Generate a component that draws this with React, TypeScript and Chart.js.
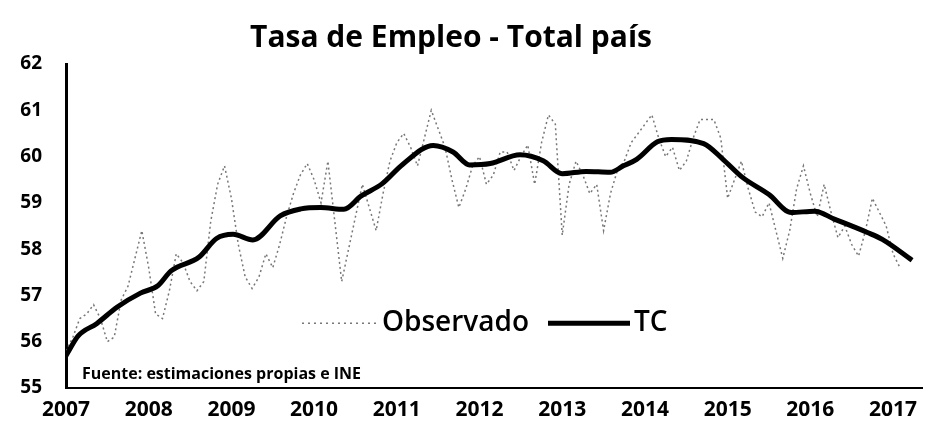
import React, { useEffect, useRef } from "react";
import { Chart, registerables } from "chart.js";

Chart.register(...registerables);

const TITLE = "Tasa de Empleo - Total país";
const SOURCE = "Fuente: estimaciones propias e INE";
const LEGEND_OBS = "Observado";
const LEGEND_TC = "TC";

const X_MIN = 2007;
const X_MAX = 2017.35;
const Y_MIN = 55;
const Y_MAX = 62;

// Tendencia-ciclo (TC): points (decimal year, value)
const tcYears = [
  2007.0, 2007.15, 2007.37, 2007.62, 2007.9, 2008.11, 2008.27, 2008.61, 2008.82,
  2009.02, 2009.26, 2009.59, 2009.84, 2010.08, 2010.36, 2010.57, 2010.82, 2011.07,
  2011.44, 2011.68, 2011.88, 2012.13, 2012.49, 2012.77, 2013.0, 2013.29, 2013.58,
  2013.74, 2013.9, 2014.15, 2014.32, 2014.71, 2014.95, 2015.18, 2015.5, 2015.77,
  2016.05, 2016.29, 2016.69, 2016.87, 2017.23,
];
const tcValues = [
  55.7, 56.13, 56.39, 56.75, 57.05, 57.21, 57.53, 57.83, 58.23,
  58.32, 58.2, 58.72, 58.87, 58.9, 58.86, 59.15, 59.41, 59.83,
  60.24, 60.1, 59.82, 59.85, 60.04, 59.91, 59.63, 59.68, 59.66,
  59.8, 59.94, 60.32, 60.37, 60.28, 59.93, 59.55, 59.18, 58.79,
  58.82, 58.65, 58.36, 58.21, 57.76,
];

// Observado: monthly values from Jan 2007
const obsStartYear = 2007;
const obsValues = [
  // 2007
  55.8, 56.1, 56.5, 56.6, 56.8, 56.5, 56.0, 56.1, 56.9, 57.2, 57.8, 58.4,
  // 2008
  57.6, 56.6, 56.5, 57.1, 57.9, 57.7, 57.3, 57.1, 57.3, 58.6, 59.4, 59.8,
  // 2009
  59.1, 58.1, 57.4, 57.15, 57.4, 57.9, 57.6, 58.1, 58.7, 59.2, 59.6, 59.85,
  // 2010
  59.5, 59.0, 59.9, 58.6, 57.3, 58.0, 58.7, 59.4, 58.9, 58.4, 59.2, 59.9,
  // 2011
  60.3, 60.5, 60.2, 59.8, 60.4, 61.0, 60.6, 60.2, 59.5, 58.9, 59.3, 59.8,
  // 2012
  60.0, 59.4, 59.6, 60.1, 60.1, 59.7, 60.0, 60.25, 59.4, 60.3, 60.9, 60.7,
  // 2013
  58.3, 59.4, 59.9, 59.6, 59.2, 59.4, 58.4, 59.2, 59.7, 59.9, 60.3, 60.5,
  // 2014
  60.7, 60.9, 60.4, 60.0, 60.2, 59.7, 59.9, 60.4, 60.8, 60.8, 60.8, 60.4,
  // 2015
  59.1, 59.5, 59.9, 59.3, 58.8, 58.7, 59.0, 58.4, 57.8, 58.4, 59.3, 59.8,
  // 2016
  59.2, 58.7, 59.4, 58.8, 58.25, 58.5, 58.1, 57.85, 58.4, 59.1, 58.8, 58.5,
  // 2017
  57.9, 57.6,
];

const FONT = "'Open Sans', 'DejaVu Sans', sans-serif";

const overlayPlugin = {
  id: "overlayText",
  afterDraw(chart: any) {
    const { ctx, chartArea } = chart;
    const ys = chart.scales.y;
    ctx.save();
    ctx.fillStyle = "#000";
    ctx.textBaseline = "middle";

    // Title
    ctx.font = `bold 30px ${FONT}`;
    ctx.textAlign = "center";
    ctx.fillText(TITLE, 451, 38);

    // Legend inside the plot
    const ly = ys.getPixelForValue(56.4);
    ctx.strokeStyle = "#777";
    ctx.lineWidth = 1.5;
    ctx.setLineDash([2, 4]);
    ctx.beginPath();
    ctx.moveTo(302, ly);
    ctx.lineTo(376, ly);
    ctx.stroke();
    ctx.setLineDash([]);
    ctx.textAlign = "left";
    ctx.font = `600 28px ${FONT}`;
    ctx.fillText(LEGEND_OBS, 382, ly);
    ctx.strokeStyle = "#000";
    ctx.lineWidth = 5;
    ctx.beginPath();
    ctx.moveTo(548, ly);
    ctx.lineTo(630, ly);
    ctx.stroke();
    ctx.fillText(LEGEND_TC, 634, ly);

    // Source note
    ctx.font = `bold 16px ${FONT}`;
    ctx.fillText(SOURCE, chartArea.left + 16, ys.getPixelForValue(55.3));
    ctx.restore();
  },
};

export default function App() {
  const ref = useRef<HTMLCanvasElement | null>(null);

  useEffect(() => {
    if (!ref.current) return;
    const tcData = tcYears.map((x, i) => ({ x, y: tcValues[i] }));
    const obsData = obsValues.map((y, i) => ({ x: obsStartYear + i / 12, y }));
    const chart = new Chart(ref.current, {
      type: "line",
      data: {
        datasets: [
          {
            label: LEGEND_TC,
            data: tcData,
            borderColor: "#000",
            borderWidth: 5,
            pointRadius: 0,
            cubicInterpolationMode: "monotone",
            fill: false,
          },
          {
            label: LEGEND_OBS,
            data: obsData,
            borderColor: "#777",
            borderWidth: 1.5,
            borderDash: [2, 3],
            pointRadius: 0,
            tension: 0,
            fill: false,
          },
        ],
      },
      options: {
        responsive: false,
        animation: false,
        layout: { padding: { top: 64, right: 12, left: 0, bottom: 0 } },
        plugins: {
          legend: { display: false },
          title: { display: false },
          tooltip: { enabled: false },
        },
        scales: {
          x: {
            type: "linear",
            min: X_MIN,
            max: X_MAX,
            afterFit: (s: any) => {
              s.height = 51;
            },
            ticks: {
              stepSize: 1,
              includeBounds: false,
              autoSkip: false,
              maxRotation: 0,
              color: "#000",
              padding: 9,
              font: { family: FONT, size: 21, weight: "bold" },
              callback: (v: any) => String(v),
            },
            grid: { display: false, drawTicks: false },
            border: { display: true, color: "#000", width: 2 },
          },
          y: {
            min: Y_MIN,
            max: Y_MAX,
            afterFit: (s: any) => {
              s.width = 66;
            },
            ticks: {
              stepSize: 1,
              color: "#000",
              padding: 24,
              font: { family: FONT, size: 19, weight: "bold" },
              callback: (v: any) => String(v),
            },
            grid: { display: false, drawTicks: false },
            border: { display: true, color: "#000", width: 3 },
          },
        },
      },
      plugins: [overlayPlugin],
    } as any);
    return () => chart.destroy();
  }, []);

  return (
    <div
      style={{
        position: "fixed",
        left: 0,
        top: 0,
        width: 934,
        height: 439,
        background: "#fff",
      }}
    >
      <canvas ref={ref} width={934} height={439} style={{ display: "block" }} />
    </div>
  );
}
